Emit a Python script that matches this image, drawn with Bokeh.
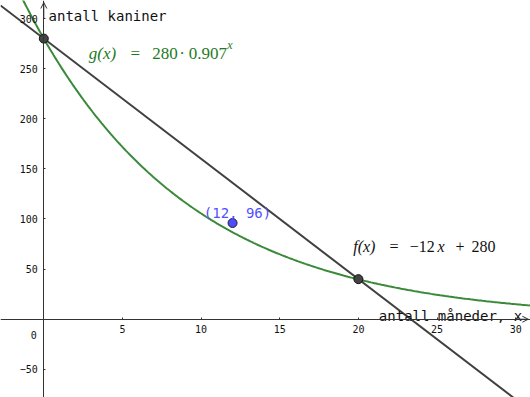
from bokeh.plotting import figure
from bokeh.models import Range1d, FixedTicker, Arrow, OpenHead
from bokeh.core.properties import value
from bokeh.embed import file_html
from bokeh.resources import INLINE
import numpy as np

# --- data ---
g_a, g_b = 280, 0.907          # g(x) = 280 * 0.907^x
f_m, f_c = -12, 280            # f(x) = -12x + 280
point_x = [12]
point_y = [96]
intersect_x = [0, 20]
intersect_y = [280, 40]
x_ticks = [5, 10, 15, 20, 25, 30]
y_ticks = [-50, 50, 100, 150, 200, 250, 300]

X0, X1 = -2.753, 30.94
Y0, Y1 = -78.1, 318.0

p = figure(width=530, height=397, x_range=Range1d(X0, X1), y_range=Range1d(Y0, Y1),
           output_backend="svg", toolbar_location=None, min_border=0,
           outline_line_color=None)
p.xgrid.visible = False
p.ygrid.visible = False

for ax in (p.xaxis, p.yaxis):
    ax.fixed_location = 0
    ax.axis_line_color = "#333333"
    ax.axis_line_width = 1
    ax.major_tick_in = 2
    ax.major_tick_out = 0
    ax.minor_tick_line_color = None
    ax.major_tick_line_color = "#333333"
    ax.major_label_text_font = "DejaVu Sans Mono"
    ax.major_label_text_font_size = "10px"
    ax.major_label_text_color = "#111111"
p.xaxis.ticker = FixedTicker(ticks=x_ticks)
p.yaxis.ticker = FixedTicker(ticks=y_ticks)
p.xaxis.major_label_standoff = 6
p.yaxis.major_label_standoff = 6

# curves
gx = np.linspace(X0, X1, 300)
gy = g_a * g_b ** gx
p.line(gx, gy, line_color="#3a8a3a", line_width=2)
fx = np.array([X0, X1])
fy = f_m * fx + f_c
p.line(fx, fy, line_color="#404040", line_width=2)

# points
p.scatter(intersect_x, intersect_y, size=9, fill_color="#444444", line_color="#111111", line_width=1)
p.scatter(point_x, point_y, size=9, fill_color="#4d4dff", line_color="#222222", line_width=1)

# arrows at axis ends
p.add_layout(Arrow(end=OpenHead(size=6, line_width=1, line_color="#333333"),
                   x_start=30.0, y_start=0, x_end=30.8, y_end=0,
                   line_color="#333333", line_width=1))
p.add_layout(Arrow(end=OpenHead(size=6, line_width=1, line_color="#333333"),
                   x_start=0, y_start=300, x_end=0, y_end=316,
                   line_color="#333333", line_width=1))

def txt(x, y, s, font="DejaVu Sans Mono", size="14px", color="#111111", style="normal", align="left"):
    p.text(x=[x], y=[y], text=[s], text_font=value(font), text_font_size=size,
           text_color=color, text_font_style=style, text_align=align,
           text_baseline="alphabetic")

# axis labels
txt(0.3, 302.5, "antall kaniner")
txt(21.3, 3.7, "antall måneder, x")
txt(-0.64, -15.3, "0", size="10px", align="center")

# point label
txt(10.17, 105.7, "(12, 96)", color="#5050ff")

# g label
gc = "#1f7a1f"
S = "17px"
SER = "Liberation Serif"
gy0 = 265.1
txt(2.861, gy0, "g(x)", font=SER, size=S, color=gc, style="italic")
txt(5.512, gy0, "=", font=SER, size=S, color=gc)
txt(6.891, gy0, "280", font=SER, size=S, color=gc)
txt(8.797, gy0, "·", font=SER, size=S, color=gc, align="center")
txt(9.218, gy0, "0.907", font=SER, size=S, color=gc)
txt(11.659, 273.4, "x", font=SER, size="12px", color=gc, style="italic")

# f label
fc = "#111111"
FS = "16px"
fy0 = 72.2
txt(19.670, fy0, "f(x)", font=SER, size=FS, color=fc, style="italic")
txt(21.977, fy0, "=", font=SER, size=FS, color=fc)
txt(23.268, fy0, "−12", font=SER, size=FS, color=fc)
txt(25.03, fy0, "x", font=SER, size=FS, color=fc, style="italic")
txt(26.17, fy0, "+", font=SER, size=FS, color=fc)
txt(27.19, fy0, "280", font=SER, size=FS, color=fc)

open("out.html", "w").write(file_html(p, INLINE))
